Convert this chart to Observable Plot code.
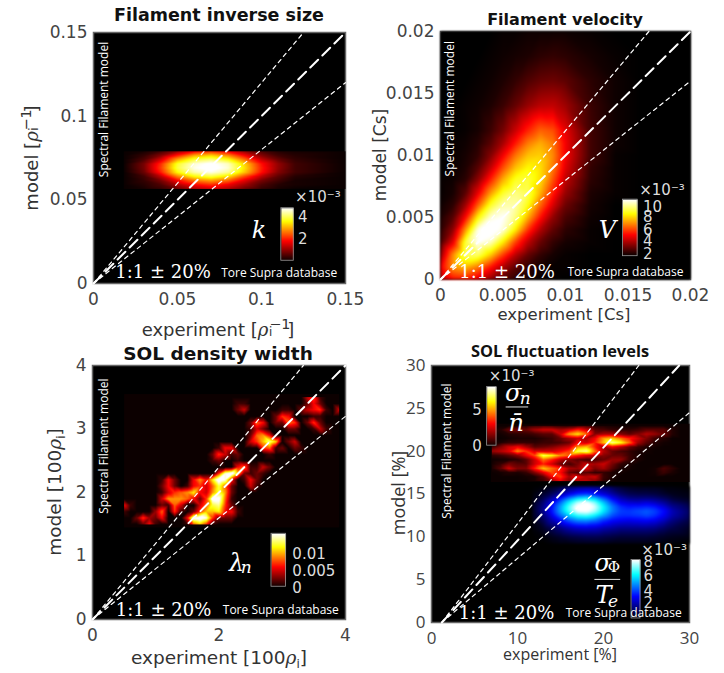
<!DOCTYPE html>
<html><head><meta charset="utf-8">
<script src="https://cdn.jsdelivr.net/npm/d3@7"></script>
<script src="https://cdn.jsdelivr.net/npm/@observablehq/plot@0.6"></script>
<style>
html,body{margin:0;padding:0;background:#fff}
#page{position:relative;width:724px;height:673px;overflow:hidden;font-family:"DejaVu Sans",sans-serif;color:#333}
.t{position:absolute;white-space:nowrap;transform:translate(-50%,-50%);line-height:1}
.title{font-weight:bold;color:#111}
.rot{transform:translate(-50%,-50%) rotate(-90deg)}
.os{font-family:"Open Sans",sans-serif}
.m{font-family:"DejaVu Serif",serif;font-style:italic}
.ss{display:inline-block;position:relative;width:1.05em;height:1em}
.ss b{position:absolute;left:.05em;font-weight:normal;line-height:1}
.ss .u{top:-.1em;font-size:.8em}.ss .d{top:.75em;font-size:.65em}
</style></head><body><div id="page"></div>
<script>
// ---- Filament inverse size (k, x 1e-3)
const kX=[0.018,0.03,0.04,0.05,0.06,0.07,0.08,0.09,0.10,0.11,0.12,0.15];
const kY=[0.079,0.0765,0.074,0.0715,0.069,0.0665,0.064,0.0615,0.059,0.0565];
const kRows=[
[0,.1,.4,1,1.7,2.1,1.7,1,.5,.2,.1,0],
[0,.3,.9,2,3,3.3,2.8,1.8,.9,.4,.2,0],
[0,.5,1.5,3,3.9,4.2,3.7,2.6,1.4,.7,.3,0],
[0,.8,2.1,3.8,4.6,4.9,4.5,3.3,1.9,1,.4,0],
[0,.8,2.2,3.9,4.7,5,4.6,3.4,2,1,.4,0],
[0,.7,2,3.6,4.4,4.7,4.3,3.2,1.9,.9,.4,0],
[0,.4,1.3,2.7,3.6,3.9,3.4,2.3,1.3,.6,.2,0],
[0,.3,.8,1.8,2.6,2.9,2.5,1.6,.8,.4,.1,0],
[0,.2,.5,1.2,1.8,2.1,1.7,1.1,.5,.2,.1,0],
[0,.1,.3,.7,1.2,1.4,1.2,.7,.3,.1,0,0]];
// ---- Filament velocity (V, x 1e-3)
const vX=[0,.001,.002,.003,.004,.005,.006,.007,.008,.009,.010,.012,.014,.016,.02];
const vY=[.02,.018,.016,.014,.012,.011,.010,.009,.008,.007,.006,.005,.004,.003,.002,.001,0];
const vRows=[
[0,0,0,0,0,.1,.1,.2,.2,.2,.2,.1,0,0,0],
[0,0,0,0,.1,.2,.3,.4,.6,.7,.6,.3,.1,0,0],
[0,0,0,.1,.2,.4,.7,1.1,1.4,1.5,1.3,.6,.2,0,0],
[0,0,.1,.2,.4,.8,1.4,2.1,2.6,2.7,2.2,.8,.2,0,0],
[0,0,.1,.3,.8,1.6,2.8,4,4.9,4.6,3.2,.9,.2,0,0],
[0,.1,.2,.5,1.2,2.3,3.8,5.2,5.9,5.2,3.4,.9,.2,0,0],
[0,.1,.3,.7,1.8,3.4,5.1,6.2,6.4,5.4,3.4,.9,.1,0,0],
[0,.1,.4,1.2,2.7,4.6,6.2,7,6.6,5.2,3.1,.7,.1,0,0],
[.1,.2,.6,2,4,6,7.4,7.6,6.6,4.6,2.6,.6,.1,0,0],
[.1,.3,1.2,3.2,5.6,7.4,8.2,7.8,6,3.9,2.1,.4,.1,0,0],
[.2,.6,2.2,4.8,7.4,8.6,8.6,7.2,4.9,3,1.5,.3,0,0,0],
[.4,1.2,3.6,7,9,9.4,8.2,5.9,3.7,2,1,.2,0,0,0],
[.6,2,5.6,9.2,10,9,6.8,4.2,2.4,1.3,.6,.1,0,0,0],
[1,3.2,7.6,9.4,8.8,6.8,4.4,2.6,1.4,.7,.3,.1,0,0,0],
[2,5.4,8,8,6.4,4.4,2.6,1.4,.7,.3,.1,0,0,0,0],
[3.2,5.6,6,5.2,3.8,2.4,1.3,.7,.3,.1,.1,0,0,0,0],
[2.2,3.6,3.8,3,2,1.2,.6,.3,.1,.1,0,0,0,0,0]];
// ---- SOL density width (lambda_n, x 1e-3)
const lX=[.5,.6,.7,.8,.9,1,1.1,1.2,1.3,1.4,1.5,1.6,1.7,1.8,1.9,2,2.1,2.2,2.3,2.4,2.5,2.6,2.7,2.8,2.9,3,3.1,3.2,3.3,3.4,3.5,3.6,3.7,3.8,3.9];
const lY=[3.5,3.4,3.3,3.2,3.1,3,2.9,2.8,2.7,2.6,2.5,2.4,2.3,2.2,2.1,2,1.9,1.8,1.7,1.6,1.5];
const lRows=[
[0,0,0,0,0, 0,0,0,0,0, 0,0,0,0,0, 0,0,0,0,0, 0,0,0,0,0, 0,0,0,0,4, 6,1,0,0,0],
[0,0,0,0,0, 0,0,0,0,0, 0,0,0,0,0, 0,0,0,1,1, 0,0,0,0,0, 0,0,0,0,2, 5,2,0,0,0],
[0,0,0,0,0, 0,0,0,0,0, 0,0,0,0,0, 0,0,0,2,4, 0,0,0,0,0, 1,1,0,2,4, 5,6,1,0,4],
[0,0,0,0,0, 0,0,0,0,0, 0,0,0,0,0, 0,0,0,0,0, 0,0,0,0,2, 6,5,0,0,0, 1,1,0,0,0],
[0,0,0,0,0, 0,0,0,0,0, 0,0,0,0,0, 0,0,0,0,0, 2,7,5,0,2, 2,7,6,0,2, 6,2,0,0,0],
[0,0,0,0,0, 0,0,0,0,0, 0,0,0,0,0, 0,0,0,0,0, 1,4,2,0,0, 0,2,2,0,0, 1,4,1,0,0],
[0,0,0,0,0, 0,0,0,0,0, 0,0,0,0,0, 0,0,0,0,0, 2,7,8,5,0, 0,0,0,0,0, 0,0,0,0,0],
[0,0,0,0,0, 0,0,0,0,0, 0,0,0,0,0, 0,0,0,0,0, 4,6,9,12,9, 0,2,4,0,0, 0,0,0,0,0],
[0,0,0,0,0, 0,0,0,0,0, 0,0,0,0,0, 1,5,5,0,0, 0,0,6,7,1, 2,0,2,1,0, 0,0,0,0,0],
[0,0,0,0,0, 0,0,0,0,0, 0,0,0,0,2, 6,4,1,2,0, 0,0,0,1,0, 0,0,0,0,0, 0,0,0,0,0],
[0,0,0,0,0, 0,0,0,0,0, 0,0,0,0,1, 2,0,0,1,0, 0,0,0,0,0, 0,0,0,0,0, 0,0,0,0,0],
[0,0,0,0,0, 0,0,0,0,0, 0,0,0,0,0, 0,0,0,5,7, 1,1,4,2,0, 0,0,0,0,0, 0,0,0,0,0],
[0,0,0,0,0, 0,0,0,0,0, 0,0,0,0,0, 6,13,15,9,2, 1,2,1,0,0, 0,0,0,0,0, 0,0,0,0,0],
[0,0,0,0,0, 0,1,5,2,0, 0,5,8,5,10, 15,13,5,0,1, 5,2,0,0,0, 0,0,0,0,0, 0,0,0,0,0],
[0,0,0,0,0, 0,2,5,2,0, 1,5,6,4,7, 11,7,2,0,0, 4,1,0,0,0, 0,0,0,0,0, 0,0,0,0,0],
[0,0,0,0,0, 0,1,4,6,7, 8,10,5,4,8, 11,8,2,0,0, 0,0,0,0,0, 0,0,0,0,0, 0,0,0,0,0],
[0,0,0,0,0, 0,4,8,8,8, 7,5,2,6,14, 14,7,1,0,0, 0,0,0,0,0, 0,0,0,0,0, 0,0,0,0,0],
[5,1,0,0,0, 0,2,1,7,4, 0,0,4,7,11, 12,6,2,0,0, 0,0,0,0,0, 0,0,0,0,0, 0,0,0,0,0],
[1,0,0,0,0, 3,7,0,6,1, 0,2,6,9,9, 10,5,5,1,0, 0,0,0,0,0, 0,0,0,0,0, 0,0,0,0,0],
[0,0,2,6,3, 2,5,0,0,0, 5,14,15,13,6, 2,2,2,0,0, 0,0,0,0,0, 0,0,0,0,0, 0,0,0,0,0],
[0,0,0,2,5, 1,0,0,0,0, 1,7,9,6,1, 0,0,0,0,0, 0,0,0,0,0, 0,0,0,0,0, 0,0,0,0,0]];
// ---- SOL fluctuation levels: sigma_n / n (x 1e-3)
const nX=[7,8,9,10,11,12,13,14,15,16,17,18,19,20,21,22,23,24,25,26,27,28,29,30];
const nY=[23,22.5,22,21.5,21,20.5,20,19.5,19,18.5,18,17.5,17,16.5];
const nRows=[
[0,0,0,0,.2,.5,.6,.5,.3,.2,.4,.5,.2,.2,.1,0,0,0,0,0,0,0,0,0],
[0,.3,1.2,1.4,1.2,2,2.5,2.5,2,2.5,3.5,2.5,1,.8,.5,.4,.4,.6,1,1,1,.3,0,0],
[0,.1,.3,.4,.5,.7,1,1,2.5,5,6,4.5,1.5,2,2,1.5,1,1.5,2.2,1.8,1.2,.3,0,0],
[0,0,.1,.2,.2,.2,.4,.6,1.2,2,2.5,2,3,5,5.5,4.5,3.5,2.5,1.5,.6,.3,0,0,0],
[.1,.2,.5,.5,.5,.4,.6,.6,.8,1.2,3,2.5,3.5,5.5,7.5,6.5,4.5,2,1,.3,.1,0,0,0],
[.6,1.5,2.5,3,2,1,1.2,1.5,2,2.5,5,5.5,3.5,2,3,2.2,1.2,.6,.2,.1,0,0,0,0],
[1.8,2.2,2.8,4.8,3.8,2.5,2.5,2.5,3,3.8,7,7.5,4.5,2.2,1.2,.8,.5,.2,.1,0,0,0,0,0],
[.4,.6,1,1.6,2.8,4,7,6.2,4.8,4.2,3.5,2.8,2.2,1.6,1.2,1.2,.6,.2,0,0,0,0,0,0],
[0,.1,.2,.4,1,2.5,4.5,3.5,2.2,1.5,1,.7,.8,1.2,1.8,1.8,.6,.2,0,0,0,0,0,0],
[.1,.5,1.4,1,1,2.5,3.5,2.5,1.2,.7,1.4,2.5,2,2.5,1.4,.5,.2,0,0,0,0,0,0,0],
[.2,1,2.5,1.5,1.5,3.5,5.5,4.5,3.5,2,1.8,2.8,1.5,2,1,.2,.1,0,0,.1,.8,.4,0,0],
[0,.1,.3,.2,.5,1.5,2.8,4,3.2,1.2,.8,1,.5,.5,.2,.1,0,0,0,.1,.6,.2,0,0],
[0,0,0,0,.1,.2,1,3,3.8,2,3,2.2,2.5,.6,.2,0,0,0,0,0,0,0,0,0],
[0,0,0,0,0,.2,.6,1.6,2.8,1.5,2.2,2.2,1.6,.4,.1,0,0,0,0,0,0,0,0,0]];
// ---- SOL fluctuation levels: sigma_Phi / T_e (x 1e-3)
const pX=[11.7,13,14,15,16,17,18,19,20,21,22,23,24,25,26,27,28,30];
const pY=[15.9,15,14.5,14,13.5,13,12.5,12,11,10,9.2];
const pRows=[
[0,.1,.3,.6,1,1.2,1.3,1.2,1,.8,.5,.3,.2,.2,.2,.1,.1,0],
[.1,.5,1,1.8,2.6,3.2,3.4,3,2.4,1.8,1.2,.9,.8,.8,.7,.5,.3,.2],
[.1,.9,1.8,3,4.2,5.2,5.6,5,3.8,2.7,1.9,1.5,1.4,1.4,1.3,1,.6,.3],
[.2,1.3,2.5,4,5.6,7,7.6,6.6,5,3.6,2.6,2.3,2.2,2.4,2.1,1.7,1.1,.6],
[.3,1.5,2.9,4.6,6.3,7.8,8.2,7.2,5.6,4.2,3.3,3,3.1,3.2,3,2.4,1.6,.9],
[.3,1.6,3,4.6,6.2,7.4,7.6,6.8,5.4,4.2,3.5,3.4,3.6,3.8,3.5,2.9,2,1.1],
[.3,1.3,2.6,4,5.2,6,6.2,5.6,4.6,3.7,3.3,3.3,3.4,3.6,3.3,2.7,1.9,1],
[.2,1,2,3,3.9,4.5,4.6,4.2,3.5,3,2.8,2.7,2.8,2.9,2.7,2.2,1.5,.8],
[.1,.4,.9,1.4,1.9,2.2,2.3,2.2,1.9,1.7,1.5,1.5,1.5,1.5,1.4,1.1,.8,.4],
[0,.1,.3,.5,.7,.8,.9,.9,.8,.7,.6,.6,.6,.6,.5,.4,.3,.2],
[0,0,.1,.2,.2,.3,.3,.3,.3,.2,.2,.2,.2,.2,.2,.1,.1,0]];
// ---- tick labels
const ticks1=[0,0.05,0.1,0.15], ticks2=[0,0.005,0.01,0.015,0.02], ticks3x=[0,2,4], ticks3y=[0,1,2,3,4], ticks4x=[0,10,20,30], ticks4y=[0,5,10,15,20,25,30];

const hot=["#000000","#ff0000","#ffff00","#ffffff"], blue=["#000000","#0000ff","#00ffff","#ffffff"];
const colorScale=(m,range,low)=>({type:"linear",domain:[0,.375*m,.75*m,m],range:low?[low,...range.slice(1)]:range,clamp:true});
const grid=(xs,ys,rows)=>rows.flatMap((r,j)=>r.map((v,i)=>({x:xs[i],y:ys[j],v})));
const heat=(xs,ys,rows,x1,x2,y1,y2,blur=1)=>Plot.raster(grid(xs,ys,rows),{x:"x",y:"y",fill:"v",x1,x2,y1,y2,interpolate:"barycentric",imageFilter:`blur(${blur}px)`});
const bar=(x1,x2,y1,y2,m)=>[
  Plot.raster(grid([x1,x2],[y1,y2],[[m,m],[0,0]]),{x:"x",y:"y",fill:"v",x1,x2,y1,y2,interpolate:"barycentric"}),
  Plot.rect([0],{x1,x2,y1,y2,stroke:"#999",strokeWidth:.8,fill:"none"})];
const W="#fff", L="#ddd";
const label=(x,y,text,o={})=>Plot.text([0],{x:()=>x,y:()=>y,text:()=>text,fill:W,textAnchor:"start",fontFamily:"'Open Sans'",fontSize:12,...o});
const vert=(x,y)=>label(x,y,"Spectral Filament model",{rotate:-90,textAnchor:"middle",fontSize:12});
const oneone=(x,y)=>label(x,y,"1:1 ± 20%",{fontFamily:"'DejaVu Serif'",fontSize:18});
const tore=(x,y)=>label(x,y,"Tore Supra database",{fontSize:12});
const sym=(x,y,t,o={})=>label(x,y,t,{fontFamily:"'DejaVu Serif'",fontStyle:"italic",fontSize:22,textAnchor:"middle",...o});
const cbt=(x,y,t,o={})=>label(x,y,t,{fill:L,fontFamily:"'DejaVu Sans'",fontSize:15,textAnchor:"middle",...o});
const lines=(center,up,low)=>[
  Plot.line(center,{stroke:W,strokeWidth:2,strokeDasharray:"11,6"}),
  Plot.line(up,{stroke:W,strokeWidth:1.2,strokeDasharray:"4,4"}),
  Plot.line(low,{stroke:W,strokeWidth:1.2,strokeDasharray:"4,4"})];

const page=document.getElementById("page");
const M={l:60,r:30,t:12,b:32};
function layer(box,dx,dy,color,marks){
  const svg=Plot.plot({
    width:box.w+M.l+M.r,height:box.h+M.t+M.b,marginLeft:M.l,marginRight:M.r,marginTop:M.t,marginBottom:M.b,
    x:{domain:dx,axis:null},y:{domain:dy,axis:null},color,
    style:{position:"absolute",left:(box.x-M.l)+"px",top:(box.y-M.t)+"px",background:"transparent",overflow:"visible"},
    marks});
  page.appendChild(svg);
}
const axes=(xt,yt,font="'DejaVu Sans'",size=17)=>[
  Plot.axisX({ticks:xt,tickSize:0,tickPadding:9,tickFormat:String,label:null,fill:"#444",fontSize:size,fontFamily:font}),
  Plot.axisY({ticks:yt,tickSize:0,tickPadding:6,tickFormat:String,label:null,fill:"#444",fontSize:size,fontFamily:font})];
const frame=(stroke="#666")=>Plot.frame({fill:"#000",stroke,strokeWidth:1.5});

// Panel 1
layer({x:93,y:32,w:252,h:251},[0,.15],[0,.15],colorScale(4.8,hot,"#0a0000"),[
  frame(),axes(ticks1,ticks1),
  heat(kX,kY,kRows,.018,.15,.079,.0565,.5),
  bar(.1118,.1192,.045,.0136,4.8),
  lines([[0,0],[.15,.15]],[[0,0],[.125,.15]],[[0,0],[.15,.12]]),
  vert(.0065,.104),oneone(.013,.0066),tore(.076,.006),
  sym(.0985,.0315,"k",{fontSize:24}),
  cbt(.1245,.0394,"4"),cbt(.1245,.0265,"2"),
  cbt(.12,.0514,"×10⁻³",{textAnchor:"start"})
]);
// Panel 2
layer({x:440,y:31,w:250,h:248},[0,.02],[0,.02],colorScale(9.4,hot),[
  frame(),axes(ticks2,ticks2),
  heat(vX,vY,vRows,0,.02,.02,0,.8),
  bar(.0146,.01577,.00644,.00188,9.4),
  lines([[0,0],[.02,.02]],[[0,0],[.01667,.02]],[[0,0],[.02,.016]]),
  vert(.00075,.01377),oneone(.0015,.0006),tore(.01016,.0006),
  sym(.01335,.004,"V",{fontSize:24}),
  cbt(.0162,.00205,"2",{textAnchor:"start"}),cbt(.0162,.0031,"4",{textAnchor:"start"}),cbt(.0162,.0040,"6",{textAnchor:"start"}),cbt(.0162,.0050,"8",{textAnchor:"start"}),cbt(.0162,.0058,"10",{textAnchor:"start"}),
  cbt(.0159,.0072,"×10⁻³",{textAnchor:"start"})
]);
// Panel 3
layer({x:92,y:365,w:253,h:254},[0,4],[0,4],colorScale(13.5,hot,"#0c0000"),[
  frame(),axes(ticks3x,ticks3y),
  heat(lX,lY,lRows,.5,3.9,3.55,1.45,.7),
  bar(2.83,3.06,1.35,.516,13.5),
  lines([[0,0],[4,4]],[[0,0],[3.333,4]],[[0,0],[4,3.2]]),
  vert(.19,2.73),oneone(.368,.147),tore(2.06,.147),
  sym(2.28,.88,"λ",{fontSize:24}),sym(2.43,.82,"n",{fontSize:17}),
  cbt(3.16,1.03,"0.01",{textAnchor:"start"}),cbt(3.16,.76,"0.005",{textAnchor:"start"}),cbt(3.16,.5,"0",{textAnchor:"start"})
]);
// Panel 4
const box4={x:431,y:365,w:258,h:257};
layer(box4,[0,30],[0,30],colorScale(8.4,hot,"#0c0000"),[
  frame(),axes(ticks4x,ticks4y,"'Open Sans'",17),
  heat(nX,nY,nRows,6.9,30,23.2,16.4,.5),
  bar(6.47,7.56,27.5,20.64,8.4)
]);
layer(box4,[0,30],[0,30],colorScale(7.5,blue),[
  heat(pX,pY,pRows,11.7,30,15.9,9.2,.8),
  bar(23.26,24.3,7.3,.47,7.5),
  lines([[1.2,0],[28.8,30]],[[1.2,0],[24.1,30]],[[1.2,0],[30,24.5]]),
  vert(1.85,20),oneone(3.18,1.05),tore(15.6,1.05),
  cbt(5.3,24.77,"5"),cbt(5.3,20.56,"0"),cbt(6.67,28.75,"×10⁻³",{textAnchor:"start"}),
  sym(9.5,26.7,"σ",{fontSize:24}),sym(10.9,26.2,"n",{fontSize:17}),
  Plot.ruleY([25.16],{x1:8.68,x2:11.3,stroke:L,strokeWidth:1}),
  sym(9.85,23.2,"n̄",{fontSize:24}),
  cbt(25.2,7,"8"),cbt(25.2,5.42,"6"),cbt(25.2,3.7,"4"),cbt(25.2,2.2,"2"),cbt(24.4,8.46,"×10⁻³",{textAnchor:"start"}),
  sym(19.9,6.9,"σ",{fontSize:24}),sym(21.2,6.4,"Φ",{fontSize:15,fontStyle:"normal"}),
  Plot.ruleY([5.03],{x1:19,x2:22,stroke:L,strokeWidth:1}),
  sym(20,3.2,"T",{fontSize:24}),sym(21.1,2.5,"e",{fontSize:17})
]);

// Titles and axis titles
const rhoI=`<span class="m">ρ</span><span class="ss"><b class="u">−1</b><b class="d">i</b></span>`;
const rhoS=`<span class="m">ρ</span><sub style="font-size:.65em;line-height:0">i</sub>`;
const html=[
 [219,16,17.5,"title","Filament inverse size"],
 [565,20,16,"title","Filament velocity"],
 [218,354,18.5,"title","SOL density width"],
 [560,351,16.4,"title os","SOL fluctuation levels"],
 [218,328,18,"",`experiment [${rhoI}]`],
 [30,158,18,"rot",`model [${rhoI}]`],
 [564,315,16.5,"","experiment [Cs]"],
 [380,155,17,"rot","model [Cs]"],
 [219,658,18.5,"",`experiment [100${rhoS}]`],
 [55,492,18.5,"rot",`model [100${rhoS}]`],
 [560,654,16,"os","experiment [%]"],
 [398,493,18,"rot os","model [%]"]
];
for(const [x,y,s,c,t] of html){
  const d=document.createElement("div");d.className="t "+c;d.style.left=x+"px";d.style.top=y+"px";d.style.fontSize=s+"px";d.innerHTML=t;page.appendChild(d);
}
</script></body></html>
